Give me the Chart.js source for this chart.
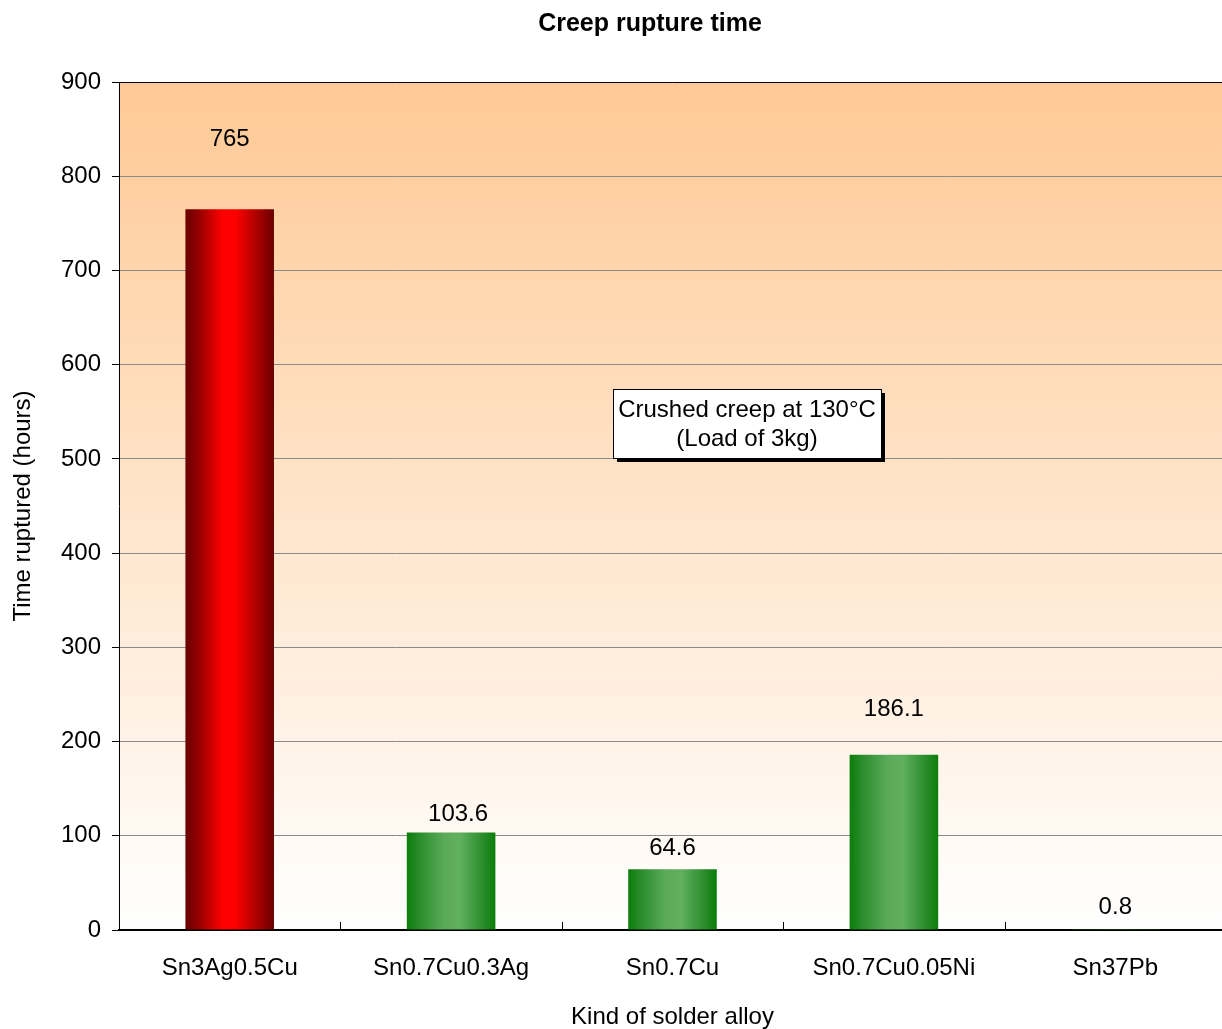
<!DOCTYPE html>
<html>
<head>
<meta charset="utf-8">
<title>Creep rupture time</title>
<script src="https://cdn.jsdelivr.net/npm/chart.js@4.4.1/dist/chart.umd.min.js"></script>
<style>
  html, body { margin: 0; padding: 0; background: #ffffff; overflow: hidden; }
  /* the plot runs slightly past the right edge of the page */
  #wrap { width: 1226px; height: 1029px; position: relative; }
</style>
</head>
<body>
<div id="wrap"><canvas id="chart"></canvas></div>
<script>
// Alloys tested and their rupture times (hours)
const alloys = ['Sn3Ag0.5Cu', 'Sn0.7Cu0.3Ag', 'Sn0.7Cu', 'Sn0.7Cu0.05Ni', 'Sn37Pb'];
const ruptureHours = [765, 103.6, 64.6, 186.1, 0.8];
const yTickMax = 900;
const yTickStep = 100;

// Styling: bar shading per alloy and where each value label sits relative to its bar
const barShade = ['red', 'green', 'green', 'green', 'green'];
const labelLift = [70, 18, 21, 45, 22];
const labelShift = [0, 7, 0, 0, 0];

const FONT = '"Liberation Sans", Arial, Helvetica, sans-serif';

const shadeStops = {
  red:   [[0, '#6a0000'], [0.12, '#8a0000'], [0.42, '#ff0000'], [0.56, '#ff0000'], [0.86, '#9a0000'], [1, '#6a0000']],
  green: [[0, '#0b7d0b'], [0.14, '#2a8c2a'], [0.42, '#5aaa5a'], [0.6, '#60b060'], [0.86, '#2a8c2a'], [1, '#0b7d0b']]
};

function barFill(ctx) {
  const chart = ctx.chart;
  const x = chart.scales.x;
  if (!chart.chartArea || !x) return barShade[ctx.dataIndex] === 'red' ? '#ff0000' : '#4aa04a';
  const center = x.getPixelForValue(ctx.dataIndex);
  const half = (x.width / alloys.length) * 0.4 / 2;
  const g = chart.ctx.createLinearGradient(center - half, 0, center + half, 0);
  shadeStops[barShade[ctx.dataIndex]].forEach(([p, c]) => g.addColorStop(p, c));
  return g;
}

// Peach-to-white plot background, frame and chart title
const backdrop = {
  id: 'backdrop',
  beforeDraw(chart) {
    const { ctx, chartArea: a } = chart;
    ctx.save();
    ctx.fillStyle = '#ffffff';
    ctx.fillRect(0, 0, chart.width, chart.height);
    const g = ctx.createLinearGradient(0, a.top, 0, a.bottom);
    g.addColorStop(0, '#ffc995');
    g.addColorStop(1, '#ffffff');
    ctx.fillStyle = g;
    ctx.fillRect(a.left, a.top, a.right - a.left, a.bottom - a.top);
    ctx.fillStyle = '#000000';
    ctx.font = 'bold 25px ' + FONT;
    ctx.textAlign = 'center';
    ctx.textBaseline = 'middle';
    ctx.fillText('Creep rupture time', 650, 24);
    ctx.restore();
  },
  afterDraw(chart) {
    const { ctx, chartArea: a } = chart;
    const x = chart.scales.x;
    ctx.save();
    // top frame line
    ctx.strokeStyle = '#000000';
    ctx.lineWidth = 1;
    ctx.beginPath();
    ctx.moveTo(a.left, a.top + 0.5);
    ctx.lineTo(a.right, a.top + 0.5);
    ctx.stroke();
    // inward category tick marks on the x axis
    const step = x.width / alloys.length;
    ctx.beginPath();
    for (let i = 1; i < alloys.length; i++) {
      const px = Math.round(x.getPixelForValue(i) - step / 2) + 0.5;
      ctx.moveTo(px, a.bottom);
      ctx.lineTo(px, a.bottom - 8);
    }
    ctx.stroke();
    ctx.restore();
  }
};

// Value labels above each bar
const valueLabels = {
  id: 'valueLabels',
  afterDatasetsDraw(chart) {
    const { ctx } = chart;
    const meta = chart.getDatasetMeta(0);
    ctx.save();
    ctx.fillStyle = '#000000';
    ctx.font = '24px ' + FONT;
    ctx.textAlign = 'center';
    ctx.textBaseline = 'middle';
    meta.data.forEach((bar, i) => {
      ctx.fillText(String(ruptureHours[i]), bar.x + labelShift[i], bar.y - labelLift[i]);
    });
    ctx.restore();
  }
};

// Test-condition note box with drop shadow
const noteBox = {
  id: 'noteBox',
  afterDraw(chart) {
    const { ctx } = chart;
    const bx = 613, by = 389, bw = 268, bh = 69;
    ctx.save();
    ctx.fillStyle = '#000000';
    ctx.fillRect(bx + 4, by + 4, bw, bh);
    ctx.fillStyle = '#ffffff';
    ctx.fillRect(bx, by, bw, bh);
    ctx.strokeStyle = '#000000';
    ctx.lineWidth = 1;
    ctx.strokeRect(bx + 0.5, by + 0.5, bw, bh);
    ctx.fillStyle = '#000000';
    ctx.font = '24px ' + FONT;
    ctx.textAlign = 'center';
    ctx.textBaseline = 'middle';
    ctx.fillText('Crushed creep at 130°C', bx + bw / 2, by + 21);
    ctx.fillText('(Load of 3kg)', bx + bw / 2, by + 50);
    ctx.restore();
  }
};

new Chart(document.getElementById('chart'), {
  type: 'bar',
  data: {
    labels: alloys,
    datasets: [{
      data: ruptureHours,
      backgroundColor: barFill,
      borderWidth: 0,
      barPercentage: 0.4,
      categoryPercentage: 1.0
    }]
  },
  options: {
    responsive: true,
    maintainAspectRatio: false,
    animation: false,
    layout: { padding: { top: 82, right: 0, left: 0, bottom: 0 } },
    plugins: {
      legend: { display: false },
      title: { display: false },
      tooltip: { enabled: false }
    },
    scales: {
      x: {
        grid: { display: false, drawTicks: false },
        border: { display: true, color: '#000000', width: 2 },
        ticks: { color: '#000000', font: { family: FONT, size: 24 }, padding: 24, maxRotation: 0 },
        title: { display: true, text: 'Kind of solder alloy', color: '#000000', font: { family: FONT, size: 24 }, padding: { top: 0, bottom: -3 } },
        afterFit(scale) { scale.height = 99; }
      },
      y: {
        min: 0,
        max: yTickMax,
        ticks: { stepSize: yTickStep, color: '#000000', font: { family: FONT, size: 24 }, padding: 11 },
        grid: { color: '#8a8a8a', lineWidth: 1, tickLength: 7, tickColor: '#000000' },
        border: { display: true, color: '#000000', width: 1 },
        title: { display: true, text: 'Time ruptured (hours)', color: '#000000', font: { family: FONT, size: 24 }, padding: { top: 9, bottom: 0 } },
        afterFit(scale) { scale.width = 119; }
      }
    }
  },
  plugins: [backdrop, valueLabels, noteBox]
});
</script>
</body>
</html>
